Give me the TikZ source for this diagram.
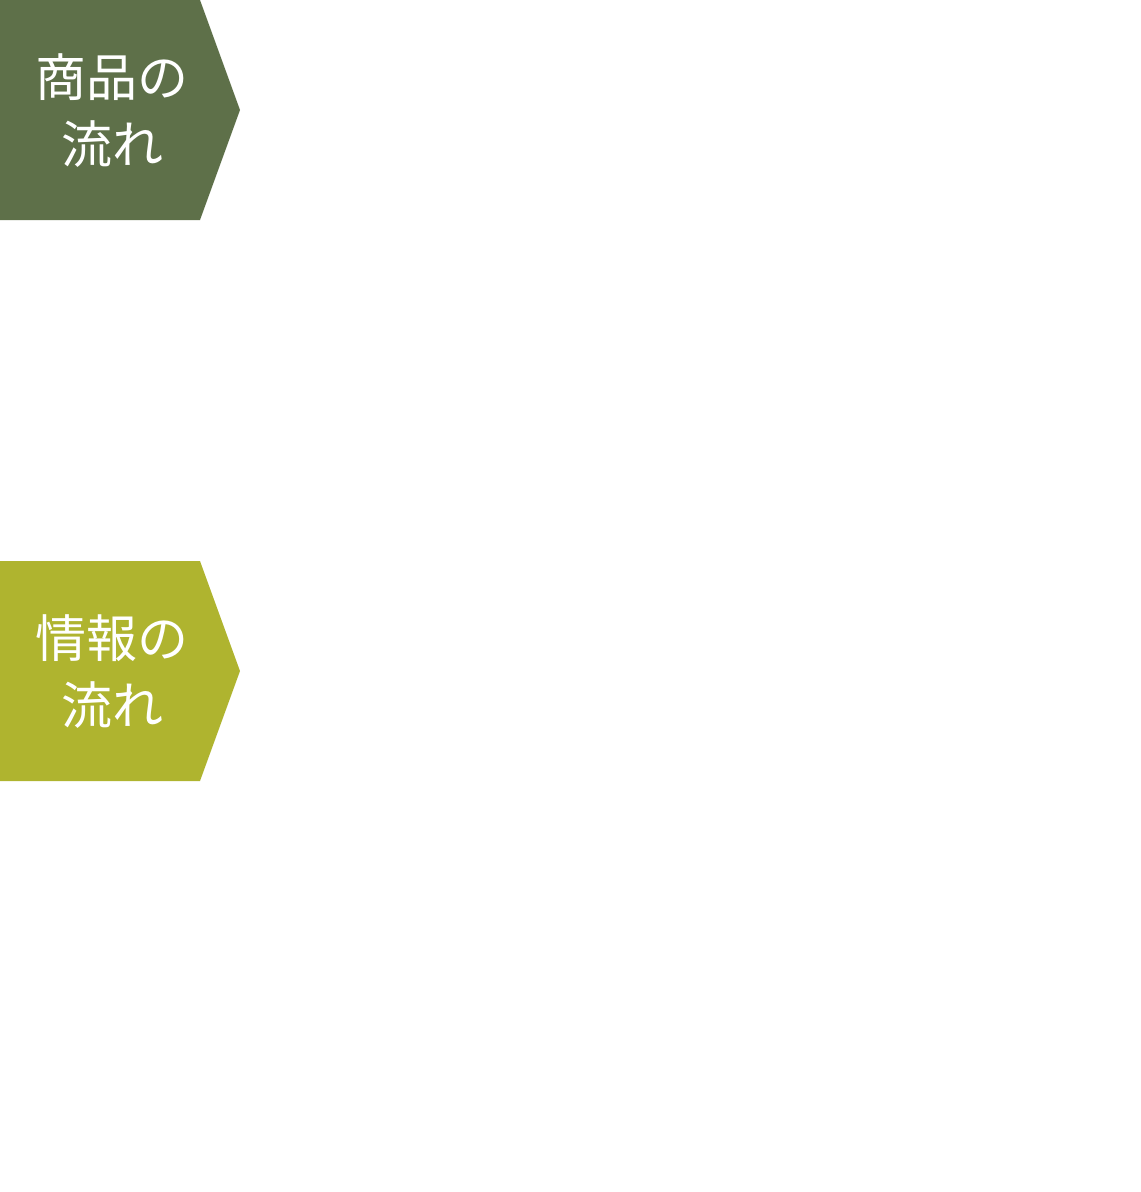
\documentclass[tikz,border=0pt]{standalone}
\usepackage{fontspec}
\newfontfamily\cjk{Noto Sans CJK JP}
\definecolor{goodsgreen}{HTML}{5E7049}
\definecolor{infogreen}{HTML}{AFB42F}
\begin{document}
\begin{tikzpicture}[x=1pt,y=-1pt]
		\tikzstyle{every node}+=[inner sep=0pt]
		\tikzstyle{tag}=[text=white, align=center, font=\cjk\fontsize{51}{67}\selectfont]
		\useasboundingbox (0,0) rectangle (1141,1192);
		% goods flow
		\fill [goodsgreen] (0,0) -- (200,0) -- (240,110) -- (200,220) -- (0,220) -- cycle;
		\node [tag] (goods) at (112,111) {商品の\\流れ};
		% information flow
		\fill [infogreen] (0,561) -- (200,561) -- (240,671) -- (200,781) -- (0,781) -- cycle;
		\node [tag] (info) at (112,672) {情報の\\流れ};
	\end{tikzpicture}
\end{document}
